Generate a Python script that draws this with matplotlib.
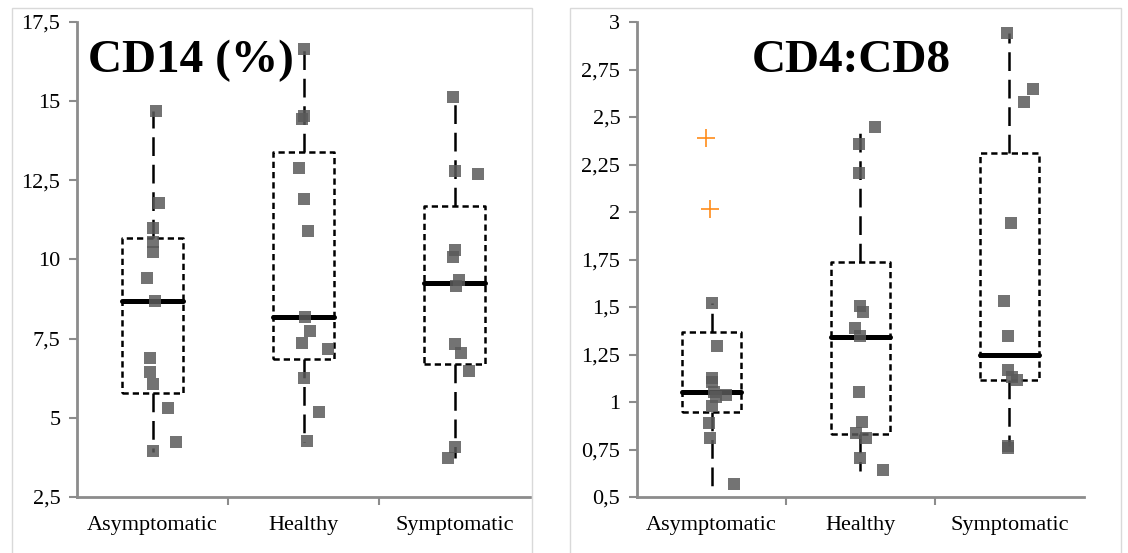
import matplotlib
matplotlib.use('Agg')
import matplotlib.pyplot as plt
from matplotlib.patches import Rectangle
from matplotlib.ticker import FixedLocator, FuncFormatter

groups = ['Asymptomatic', 'Healthy', 'Symptomatic']

# CD14 (%) - individual points
cd14_asym = [14.7, 11.77, 10.98, 10.55, 10.25, 9.4, 8.7, 6.88, 6.44, 6.06, 5.3, 4.23, 3.95]
cd14_heal = [16.66, 14.52, 14.45, 12.88, 11.9, 10.89, 8.18, 7.74, 7.36, 7.17, 6.25, 5.18, 4.27]
cd14_symp = [15.12, 12.78, 12.69, 10.29, 10.07, 9.35, 9.16, 7.33, 7.04, 6.48, 4.08, 3.73]
# horizontal jitter (category units)
cd14_asym_dx = [0.02, 0.044, 0.003, 0.0, 0.0, -0.036, 0.017, -0.017, -0.017, 0.0, 0.1, 0.156, 0.0]
cd14_heal_dx = [0.0, 0.0, -0.013, -0.033, 0.0, 0.027, 0.007, 0.046, -0.013, 0.16, 0.0, 0.1, 0.02]
cd14_symp_dx = [-0.013, 0.0, 0.153, 0.0, -0.013, 0.027, 0.013, 0.0, 0.04, 0.093, 0.0, -0.04]
# box stats: whisker low, q1, median, q3, whisker high
cd14_whislo = [3.93, 4.23, 3.73]
cd14_q1 = [5.79, 6.85, 6.70]
cd14_med = [8.69, 8.18, 9.25]
cd14_q3 = [10.67, 13.38, 11.68]
cd14_whishi = [14.7, 16.66, 15.12]

# CD4:CD8
cd48_asym = [1.52, 1.295, 1.126, 1.105, 1.053, 1.037, 1.026, 0.98, 0.89, 0.81, 0.568]
cd48_heal = [2.447, 2.36, 2.205, 1.505, 1.474, 1.39, 1.347, 1.053, 0.895, 0.837, 0.81, 0.705, 0.642]
cd48_symp = [2.94, 2.647, 2.58, 1.944, 1.53, 1.347, 1.168, 1.132, 1.116, 0.768, 0.757]
cd48_asym_dx = [0.0, 0.04, 0.0, 0.0, 0.02, 0.094, 0.027, 0.0, -0.02, -0.007, 0.148]
cd48_heal_dx = [0.094, -0.007, -0.007, 0.0, 0.02, -0.04, 0.0, -0.013, 0.013, -0.027, 0.04, 0.0, 0.148]
cd48_symp_dx = [-0.02, 0.155, 0.094, 0.013, -0.04, -0.007, -0.007, 0.02, 0.047, -0.013, -0.013]
cd48_out_vals = [2.39, 2.016]
cd48_out_dx = [-0.034, -0.013]
cd48_whislo = [0.558, 0.637, 0.768]
cd48_q1 = [0.947, 0.832, 1.116]
cd48_med = [1.053, 1.342, 1.25]
cd48_q3 = [1.368, 1.737, 2.31]
cd48_whishi = [1.52, 2.447, 2.94]

W, H = 1128, 553
fig = plt.figure(figsize=(W / 100, H / 100), dpi=100)
plt.rcParams['font.family'] = ['Liberation Serif', 'DejaVu Serif']

# light chart-area borders, as in the spreadsheet export
fig.patches.append(Rectangle((12 / W, -0.02), 520 / W, 1.02 - 8 / H, transform=fig.transFigure,
                             fill=False, edgecolor='#d9d9d9', lw=1))
fig.patches.append(Rectangle((570 / W, -0.02), 551 / W, 1.02 - 8 / H, transform=fig.transFigure,
                             fill=False, edgecolor='#d9d9d9', lw=1))

ax1 = fig.add_axes([77 / W, 56 / H, 453 / W, 475 / H])
ax2 = fig.add_axes([637 / W, 56 / H, 447 / W, 475 / H])

axis_grey = '#8c8c8c'


def comma(v, pos):
    s = ('%g' % v).replace('.', ',')
    return s


def draw_panel(ax, title, title_x, pts, dxs, lo, q1, med, q3, hi, ylim, step):
    stats = []
    for i in range(3):
        stats.append(dict(whislo=lo[i], q1=q1[i], med=med[i], q3=q3[i], whishi=hi[i], fliers=[]))
    ax.bxp(stats, positions=[0, 1, 2], widths=0.4, showcaps=False, showfliers=False,
           boxprops=dict(color='black', lw=1.8, linestyle=(0, (2.5, 1.6))),
           whiskerprops=dict(color='black', lw=1.8, linestyle=(0, (7.5, 3.5))),
           medianprops=dict(color='black', lw=3.6, solid_capstyle='round'))
    for i in range(3):
        xs = [i + d for d in dxs[i]]
        ax.scatter(xs, pts[i], marker='s', s=68, color='#5a5a5a', alpha=0.85,
                   linewidths=0, zorder=5)

    ax.set_xlim(-0.5, 2.5)
    ax.set_ylim(*ylim)
    n = int(round((ylim[1] - ylim[0]) / step))
    ax.yaxis.set_major_locator(FixedLocator([ylim[0] + k * step for k in range(n + 1)]))
    ax.yaxis.set_major_formatter(FuncFormatter(comma))
    ax.set_xticks([0, 1, 2])
    ax.set_xticklabels(groups)
    ax.xaxis.set_minor_locator(FixedLocator([0.5, 1.5]))
    ax.tick_params(axis='x', which='major', length=0, pad=14, labelsize=16)
    ax.tick_params(axis='x', which='minor', length=6, width=1.5, color=axis_grey)
    ax.tick_params(axis='y', length=6, width=1.5, color=axis_grey, labelsize=16, pad=6)
    for side in ['top', 'right']:
        ax.spines[side].set_visible(False)
    for side in ['left', 'bottom']:
        ax.spines[side].set_color(axis_grey)
        ax.spines[side].set_linewidth(2)
    ax.text(title_x, 0.895, title, transform=ax.transAxes, fontsize=34, fontweight='bold',
            va='baseline', ha='left', zorder=10)


draw_panel(ax1, 'CD14 (%)', 0.024,
           [cd14_asym, cd14_heal, cd14_symp], [cd14_asym_dx, cd14_heal_dx, cd14_symp_dx],
           cd14_whislo, cd14_q1, cd14_med, cd14_q3, cd14_whishi, (2.5, 17.5), 2.5)
draw_panel(ax2, 'CD4:CD8', 0.257,
           [cd48_asym, cd48_heal, cd48_symp], [cd48_asym_dx, cd48_heal_dx, cd48_symp_dx],
           cd48_whislo, cd48_q1, cd48_med, cd48_q3, cd48_whishi, (0.5, 3.0), 0.25)

ax2.scatter([d for d in cd48_out_dx], cd48_out_vals, marker='+', s=160, color='#ff8c1a',
            linewidths=1.2, zorder=6)

fig.savefig('out.png', dpi=100)
